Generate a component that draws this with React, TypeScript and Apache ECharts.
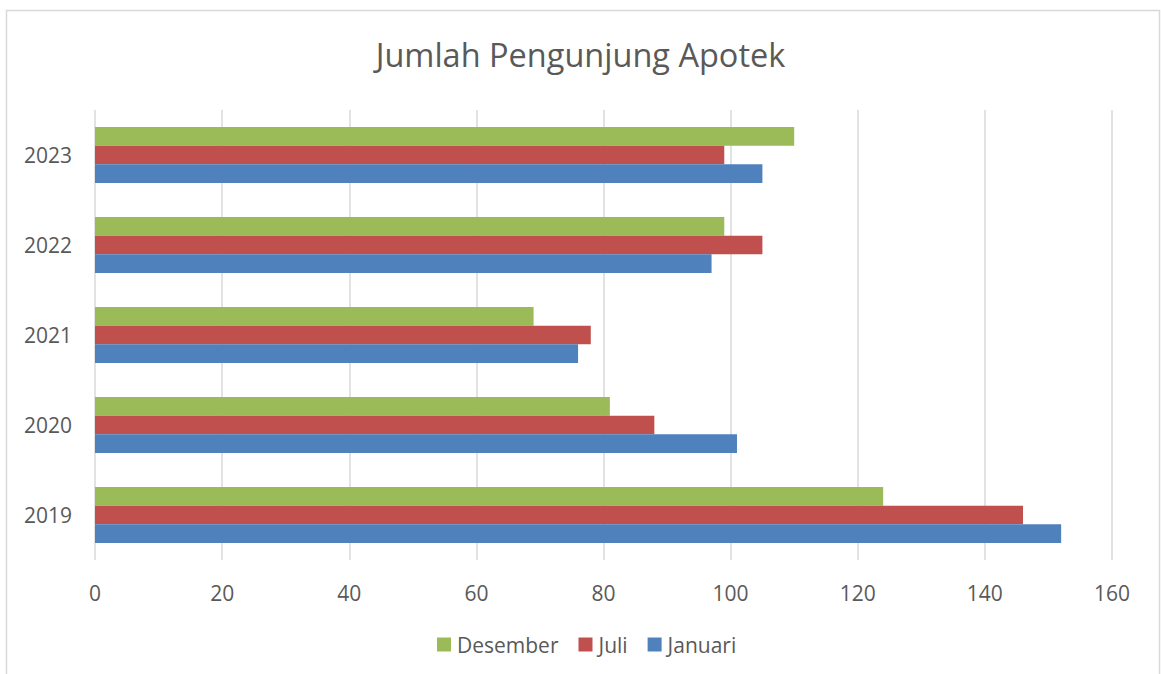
import React, { useEffect, useRef } from "react";
import * as echarts from "echarts";

const categories = ["2019", "2020", "2021", "2022", "2023"];
const januari = [152, 101, 76, 97, 105];
const juli = [146, 88, 78, 105, 99];
const desember = [124, 81, 69, 99, 110];
const xTicks = { min: 0, max: 160, interval: 20 };

const FONT = "Open Sans";
const TXT = "#595959";

export default function App() {
  const ref = useRef<HTMLDivElement>(null);
  useEffect(() => {
    document.body.style.margin = "0";
    const chart = echarts.init(ref.current!, null, { renderer: "svg" });
    chart.setOption({
      animation: false,
      backgroundColor: "#ffffff",
      textStyle: { fontFamily: FONT, color: TXT },
      title: {
        text: "Jumlah Pengunjung Apotek",
        left: "center",
        top: 33,
        textStyle: { fontFamily: FONT, fontSize: 32.5, fontWeight: "normal", color: TXT },
      },
      graphic: [
        {
          type: "rect",
          shape: { x: 6.5, y: 10.5, width: 1153, height: 700 },
          style: { fill: "none", stroke: "#d9d9d9", lineWidth: 1.5 },
          silent: true,
        },
      ],
      legend: {
        data: ["Desember", "Juli", "Januari"],
        bottom: 14,
        left: 432,
        itemWidth: 14,
        itemHeight: 14,
        itemGap: 20,
        icon: "rect",
        textStyle: { fontFamily: FONT, fontSize: 21, color: TXT, padding: [0, 0, 0, 1] },
      },
      grid: { left: 95, right: 49, top: 110, bottom: 114, containLabel: false },
      xAxis: {
        type: "value",
        min: xTicks.min,
        max: xTicks.max,
        interval: xTicks.interval,
        axisLine: { show: false },
        axisTick: { show: false },
        splitLine: { lineStyle: { color: "#d9d9d9", width: 1.5 } },
        axisLabel: { fontFamily: FONT, fontSize: 21, color: TXT, margin: 22 },
      },
      yAxis: {
        type: "category",
        data: categories,
        axisLine: { show: false },
        axisTick: { show: false },
        axisLabel: { fontFamily: FONT, fontSize: 21, color: TXT, margin: 23 },
      },
      series: [
        { name: "Desember", type: "bar", data: desember, itemStyle: { color: "#9bbb59" }, barGap: "0%", barCategoryGap: "38%" },
        { name: "Juli", type: "bar", data: juli, itemStyle: { color: "#c0504d" }, barGap: "0%", barCategoryGap: "38%" },
        { name: "Januari", type: "bar", data: januari, itemStyle: { color: "#4f81bd" }, barGap: "0%", barCategoryGap: "38%" },
      ],
    });
    return () => chart.dispose();
  }, []);
  return (
    <div
      ref={ref}
      style={{ position: "absolute", left: 0, top: 0, width: 1161, height: 674, background: "#fff" }}
    />
  );
}
